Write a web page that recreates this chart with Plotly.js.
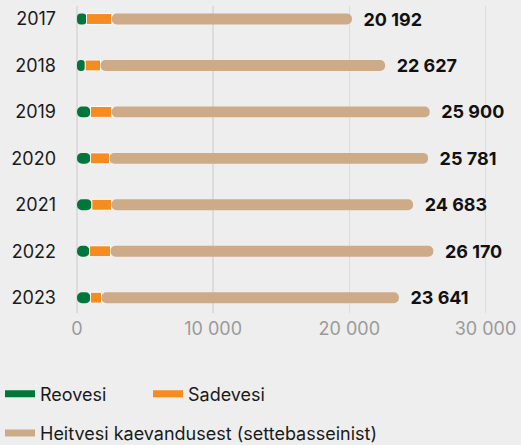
<!DOCTYPE html>
<html>
<head>
<meta charset="utf-8">
<script src="https://cdn.plot.ly/plotly-3.0.1.min.js"></script>
<style>html,body{margin:0;padding:0;background:#eeeeee;}#chart{width:521px;height:445px;}</style>
</head>
<body>
<div id="chart"></div>
<script>
const years = ['2017', '2018', '2019', '2020', '2021', '2022', '2023'];
const reovesi = [700, 600, 990, 990, 1090, 920, 990];
const sadevesi = [1855, 1125, 1565, 1396, 1443, 1540, 810];
const heitvesi = [17637, 20902, 23345, 23395, 22150, 23710, 21841];
const xTicks = [0, 10000, 20000, 30000];

const names = ['Reovesi', 'Sadevesi', 'Heitvesi kaevandusest (settebasseinist)'];
const colors = ['#00763a', '#f68b1f', '#cdab88'];

const totals = years.map((_, i) => reovesi[i] + sadevesi[i] + heitvesi[i]);
const sadeBase = reovesi.slice();
const heitBase = years.map((_, i) => reovesi[i] + sadevesi[i]);
const negReo = reovesi.map(v => -v);

const barW = 0.235;
const traces = [
  {type: 'bar', orientation: 'h', y: years, x: negReo, base: reovesi, width: barW,
   marker: {color: colors[0], cornerradius: 5.5}, showlegend: false, hoverinfo: 'skip'},
  {type: 'bar', orientation: 'h', y: years, x: sadevesi, base: sadeBase, width: barW,
   marker: {color: colors[1], line: {color: '#ffffff', width: 1}}, showlegend: false, hoverinfo: 'skip'},
  {type: 'bar', orientation: 'h', y: years, x: heitvesi, base: heitBase, width: barW,
   marker: {color: colors[2], cornerradius: 5.5}, showlegend: false, hoverinfo: 'skip',
   customdata: totals, texttemplate: '\u00a0\u00a0%{customdata:,}', textposition: 'outside',
   constraintext: 'none', cliponaxis: false,
   outsidetextfont: {family: 'Inter, sans-serif', size: 18, color: '#111111', weight: 700}},
  {type: 'scatter', mode: 'lines', x: [null], y: [null], name: names[0],
   line: {color: colors[0], width: 7}, legend: 'legend', hoverinfo: 'skip'},
  {type: 'scatter', mode: 'lines', x: [null], y: [null], name: names[1],
   line: {color: colors[1], width: 7}, legend: 'legend', hoverinfo: 'skip'},
  {type: 'scatter', mode: 'lines', x: [null], y: [null], name: names[2],
   line: {color: colors[2], width: 7}, legend: 'legend2', hoverinfo: 'skip'}
];

const layout = {
  width: 521, height: 445,
  paper_bgcolor: '#eeeeee', plot_bgcolor: '#eeeeee',
  margin: {l: 77, r: 31, t: 6, b: 132},
  barmode: 'overlay',
  separators: ', ',
  font: {family: 'Inter, sans-serif', size: 18, color: '#1a1a1a'},
  xaxis: {
    range: [0, 30330], tickvals: xTicks, tickformat: ',',
    showgrid: true, gridcolor: '#dcdcdc', gridwidth: 1.5,
    zeroline: true, zerolinecolor: '#dcdcdc', zerolinewidth: 1.5,
    showline: false, ticks: '', ticklabelstandoff: 3,
    tickfont: {size: 18, color: '#9a9a9a'}, fixedrange: true
  },
  yaxis: {
    type: 'category', range: [6.33, -0.28], showgrid: false, zeroline: false,
    showline: false, ticks: '', ticklabelstandoff: 20,
    tickfont: {size: 18, color: '#1a1a1a'}, fixedrange: true
  },
  legend: {
    orientation: 'h', xref: 'container', yref: 'container', x: 0, y: 0.156,
    xanchor: 'left', yanchor: 'top', entrywidth: 103, entrywidthmode: 'pixels',
    bgcolor: 'rgba(0,0,0,0)', font: {size: 18, color: '#1a1a1a'}
  },
  legend2: {
    orientation: 'h', xref: 'container', yref: 'container', x: 0, y: 0.068,
    xanchor: 'left', yanchor: 'top',
    bgcolor: 'rgba(0,0,0,0)', font: {size: 18, color: '#1a1a1a'}
  },
  showlegend: true
};

Plotly.newPlot('chart', traces, layout, {displayModeBar: false, staticPlot: true});
</script>
</body>
</html>
